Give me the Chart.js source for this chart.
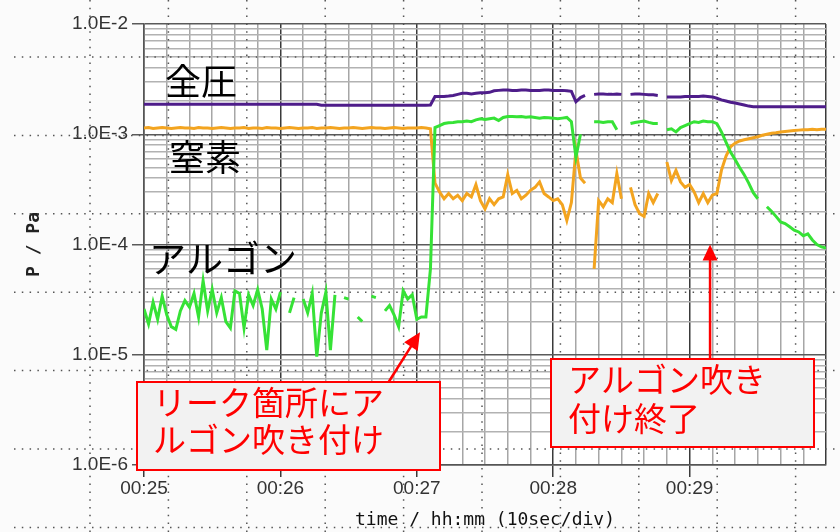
<!DOCTYPE html>
<html><head><meta charset="utf-8">
<script src="https://cdn.jsdelivr.net/npm/chart.js@4.4.1/dist/chart.umd.min.js"></script>
<style>html,body{margin:0;padding:0;background:#fbfbfb;}#wrap{width:840px;height:532px;position:relative;}</style>
</head><body><div id="wrap"><canvas id="c" width="840" height="532"></canvas></div>
<script>
// elapsed seconds after 00:25:00
const times = [
  0,2,4,6,8,10,12,14,16,18,
  20,22,24,26,28,30,32,34,36,38,
  40,42,44,46,48,50,52,54,56,58,
  60,62,64,66,68,70,72,74,76,78,
  80,82,84,86,88,90,92,94,96,98,
  100,102,104,106,108,110,112,114,116,118,
  120,122,124,126,128,130,132,134,136,138,
  140,142,144,146,148,150,152,154,156,158,
  160,162,164,166,168,170,172,174,176,178,
  180,182,184,186,188,190,192,194,196,198,
  200,202,204,206,208,210,212,214,216,218,
  220,222,224,226,228,230,232,234,236,238,
  240,242,244,246,248,250,252,254,256,258,
  260,262,264,266,268,270,272,274,276,278,
  280,282,284,286,288,290,292,294,296,298,
  300
];
// 全圧 (Pa)
const totalPressure = [
  1.87e-3,1.87e-3,1.87e-3,1.87e-3,1.87e-3,1.87e-3,1.87e-3,1.87e-3,1.87e-3,1.87e-3,
  1.87e-3,1.87e-3,1.87e-3,1.87e-3,1.87e-3,1.87e-3,1.87e-3,1.87e-3,1.87e-3,1.87e-3,
  1.87e-3,1.87e-3,1.87e-3,1.87e-3,1.87e-3,1.87e-3,1.87e-3,1.87e-3,1.87e-3,1.87e-3,
  1.87e-3,1.87e-3,1.87e-3,1.87e-3,1.87e-3,1.87e-3,1.87e-3,1.87e-3,1.87e-3,1.83e-3,
  1.83e-3,1.83e-3,1.83e-3,1.83e-3,1.83e-3,1.83e-3,1.83e-3,1.83e-3,1.83e-3,1.83e-3,
  1.83e-3,1.83e-3,1.83e-3,1.83e-3,1.83e-3,1.83e-3,1.83e-3,1.83e-3,1.83e-3,1.83e-3,
  1.83e-3,1.83e-3,1.83e-3,1.84e-3,2.2e-3,2.2e-3,2.2e-3,2.22e-3,2.25e-3,2.3e-3,
  2.35e-3,2.35e-3,2.32e-3,2.35e-3,2.38e-3,2.38e-3,2.4e-3,2.48e-3,2.5e-3,2.52e-3,
  2.52e-3,2.5e-3,2.5e-3,2.52e-3,2.52e-3,2.5e-3,2.5e-3,2.5e-3,2.52e-3,2.52e-3,
  2.5e-3,2.5e-3,2.5e-3,2.48e-3,2.45e-3,1.97e-3,2.15e-3,2.25e-3,null,2.3e-3,
  2.32e-3,2.32e-3,2.3e-3,2.3e-3,2.32e-3,2.3e-3,null,2.3e-3,2.32e-3,2.32e-3,
  2.3e-3,2.28e-3,2.28e-3,2.25e-3,null,2.18e-3,2.18e-3,2.18e-3,2.18e-3,2.2e-3,
  2.2e-3,2.2e-3,2.2e-3,2.22e-3,2.2e-3,2.18e-3,2.12e-3,2.05e-3,2.0e-3,1.95e-3,
  1.92e-3,1.88e-3,1.84e-3,1.8e-3,1.78e-3,1.78e-3,1.78e-3,1.78e-3,1.78e-3,1.78e-3,
  1.78e-3,1.78e-3,1.78e-3,1.78e-3,1.78e-3,1.78e-3,1.78e-3,1.78e-3,1.78e-3,1.78e-3,
  1.78e-3
];
// 窒素 (Pa)
const nitrogen = [
  1.14e-3,1.15e-3,1.13e-3,1.14e-3,1.15e-3,1.14e-3,1.13e-3,1.14e-3,1.15e-3,1.14e-3,
  1.14e-3,1.13e-3,1.15e-3,1.14e-3,1.14e-3,1.13e-3,1.14e-3,1.15e-3,1.14e-3,1.13e-3,
  1.14e-3,1.14e-3,1.15e-3,1.13e-3,1.14e-3,1.14e-3,1.13e-3,1.15e-3,1.14e-3,1.14e-3,
  1.13e-3,1.14e-3,1.15e-3,1.14e-3,1.13e-3,1.14e-3,1.14e-3,1.15e-3,1.13e-3,1.14e-3,
  1.14e-3,1.15e-3,1.14e-3,1.13e-3,1.14e-3,1.14e-3,1.15e-3,1.14e-3,1.13e-3,1.14e-3,
  1.15e-3,1.14e-3,1.14e-3,1.13e-3,1.14e-3,1.15e-3,1.14e-3,1.13e-3,1.14e-3,1.14e-3,
  1.14e-3,1.15e-3,1.14e-3,1.12e-3,3.6e-4,3.0e-4,2.6e-4,2.9e-4,2.6e-4,2.8e-4,
  2.5e-4,2.9e-4,2.7e-4,3.5e-4,2.5e-4,2.1e-4,2.6e-4,2.3e-4,2.6e-4,2.7e-4,
  4.3e-4,2.9e-4,3.1e-4,2.6e-4,2.8e-4,3.1e-4,3.3e-4,3.7e-4,2.9e-4,2.7e-4,
  2.5e-4,2.6e-4,2.3e-4,1.65e-4,2.4e-4,7.2e-4,4.0e-4,3.6e-4,null,6.0e-5,
  2.5e-4,2.2e-4,2.6e-4,2.4e-4,4.4e-4,2.6e-4,null,3.3e-4,2.3e-4,1.9e-4,
  1.8e-4,2.9e-4,2.4e-4,2.9e-4,null,5.6e-4,3.8e-4,4.7e-4,3.7e-4,3.3e-4,
  3.5e-4,3.0e-4,2.4e-4,2.9e-4,2.4e-4,2.8e-4,2.9e-4,4.7e-4,6.3e-4,7.7e-4,
  8.3e-4,8.7e-4,8.9e-4,9.1e-4,9.3e-4,9.5e-4,9.8e-4,1.0e-3,1.02e-3,1.03e-3,
  1.05e-3,1.06e-3,1.07e-3,1.08e-3,1.09e-3,1.1e-3,1.1e-3,1.11e-3,1.1e-3,1.11e-3,
  1.11e-3
];
// アルゴン (Pa)
const argon = [
  2.6e-5,1.9e-5,3.0e-5,2.1e-5,3.4e-5,2.3e-5,1.8e-5,1.7e-5,2.5e-5,3.1e-5,
  2.7e-5,3.6e-5,2.2e-5,4.7e-5,2.5e-5,3.9e-5,2.4e-5,3.3e-5,2.0e-5,1.75e-5,
  3.8e-5,3.6e-5,1.75e-5,3.5e-5,2.8e-5,3.9e-5,2.6e-5,1.1e-5,3.2e-5,2.6e-5,
  3.7e-5,null,2.4e-5,3.3e-5,null,3.2e-5,2.4e-5,3.6e-5,9.6e-6,2.4e-5,
  3.7e-5,1.1e-5,3.5e-5,null,3.3e-5,3.2e-5,null,2.2e-5,2.0e-5,null,
  3.4e-5,3.3e-5,null,2.5e-5,2.8e-5,2.3e-5,1.8e-5,3.8e-5,3.2e-5,3.5e-5,
  2.1e-5,2.2e-5,2.2e-5,6.0e-5,1.15e-3,1.2e-3,1.25e-3,1.27e-3,1.28e-3,1.3e-3,
  1.3e-3,1.32e-3,1.3e-3,1.35e-3,1.38e-3,1.36e-3,1.38e-3,1.4e-3,1.33e-3,1.42e-3,
  1.45e-3,1.45e-3,1.44e-3,1.45e-3,1.43e-3,1.44e-3,1.42e-3,1.4e-3,1.42e-3,1.41e-3,
  1.4e-3,1.38e-3,1.4e-3,1.42e-3,1.3e-3,6.2e-4,1.0e-3,null,null,1.3e-3,
  1.3e-3,1.28e-3,1.3e-3,1.3e-3,1.1e-3,null,null,1.25e-3,1.28e-3,1.3e-3,
  1.32e-3,1.28e-3,1.25e-3,1.25e-3,null,1.1e-3,1.12e-3,1.05e-3,1.15e-3,1.2e-3,
  1.25e-3,1.3e-3,1.28e-3,1.32e-3,1.3e-3,1.3e-3,1.25e-3,1.05e-3,8.5e-4,6.9e-4,
  5.9e-4,5.0e-4,4.3e-4,3.6e-4,2.95e-4,2.6e-4,null,2.2e-4,2.0e-4,1.8e-4,
  1.6e-4,1.55e-4,1.45e-4,1.35e-4,1.3e-4,1.2e-4,1.25e-4,1.1e-4,1.0e-4,9.5e-5,
  9.3e-5
];
const xTickLabels = ['00:25','00:26','00:27','00:28','00:29'];
const xMinuteTicks = [0,60,120,180,240];
const yDecades = [1e-6,1e-5,1e-4,1e-3,1e-2];
const yDecadeLabels = ['1.0E-6','1.0E-5','1.0E-4','1.0E-3','1.0E-2'];
const yGridValues = [
  1e-6,2e-6,3e-6,4e-6,5e-6,6e-6,7e-6,8e-6,9e-6,
  1e-5,2e-5,3e-5,4e-5,5e-5,6e-5,7e-5,8e-5,9e-5,
  1e-4,2e-4,3e-4,4e-4,5e-4,6e-4,7e-4,8e-4,9e-4,
  1e-3,2e-3,3e-3,4e-3,5e-3,6e-3,7e-3,8e-3,9e-3,
  1e-2
];
const seriesNames = ['全圧','窒素','アルゴン'];
const annotationTexts = [['リーク箇所にア','ルゴン吹き付け'],['アルゴン吹き','付け終了']];

const decadeIndex = v => yDecades.findIndex(d => Math.abs(v / d - 1) < 1e-6);
const toPts = arr => times.map((t, i) => ({x: t, y: arr[i]}));

function drawArrow(ctx, x1, y1, x2, y2, head, half) {
  const dx = x2 - x1, dy = y2 - y1, L = Math.hypot(dx, dy), ux = dx / L, uy = dy / L;
  ctx.beginPath(); ctx.moveTo(x1, y1); ctx.lineTo(x2 - ux * head * 0.9, y2 - uy * head * 0.9); ctx.stroke();
  ctx.beginPath(); ctx.moveTo(x2, y2);
  ctx.lineTo(x2 - ux * head - uy * half, y2 - uy * head + ux * half);
  ctx.lineTo(x2 - ux * head + uy * half, y2 - uy * head - ux * half);
  ctx.closePath(); ctx.fill();
}

const decor = {
  id: 'decor',
  beforeDraw(chart) {
    const {ctx, chartArea: a} = chart;
    ctx.save();
    ctx.fillStyle = '#fbfbfb'; ctx.fillRect(0, 0, chart.width, chart.height);
    ctx.fillStyle = '#ffffff'; ctx.fillRect(a.left, a.top, a.right - a.left, a.bottom - a.top);
    ctx.restore();
  },
  beforeDatasetsDraw(chart) {
    const {ctx} = chart;
    ctx.save();
    ctx.strokeStyle = '#555'; ctx.lineWidth = 1.5; ctx.setLineDash([1.5, 6.3]);
    for (let k = 0; k < 10; k++) { const x = 90 + 78.4 * k; ctx.beginPath(); ctx.moveTo(x, 0); ctx.lineTo(x, 532); ctx.stroke(); }
    for (let k = 0; k < 7; k++) { const y = 57 + 78.4 * k; ctx.beginPath(); ctx.moveTo(14, y); ctx.lineTo(840, y); ctx.stroke(); }
    ctx.restore();
  },
  afterDraw(chart) {
    const {ctx, scales: {x, y}} = chart;
    ctx.save();
    // series labels
    ctx.fillStyle = '#000'; ctx.textBaseline = 'middle'; ctx.textAlign = 'left';
    ctx.font = '36px "Noto Sans CJK JP"';
    ctx.fillText(seriesNames[0], 165, 81);
    ctx.fillText(seriesNames[1], 169, 157);
    ctx.font = '37px "Noto Sans CJK JP"';
    ctx.fillText(seriesNames[2], 149, 259);
    // arrows
    ctx.strokeStyle = '#ff0000'; ctx.fillStyle = '#ff0000'; ctx.lineWidth = 2.5;
    drawArrow(ctx, 388, 383, x.getPixelForValue(121.4), y.getPixelForValue(1.6e-5), 17, 8);
    drawArrow(ctx, x.getPixelForValue(249), 358, x.getPixelForValue(249), y.getPixelForValue(1e-4), 16, 7.5);
    // annotation boxes
    const boxes = [
      {l: 137, t: 382, w: 303, h: 88, tx: 153, ty: [402, 439]},
      {l: 551, t: 359, w: 263, h: 88, tx: 568, ty: [379, 418]}
    ];
    boxes.forEach((b, i) => {
      ctx.fillStyle = '#f2f2f2'; ctx.fillRect(b.l, b.t, b.w, b.h);
      ctx.strokeStyle = '#ff0000'; ctx.lineWidth = 2; ctx.strokeRect(b.l, b.t, b.w, b.h);
      ctx.fillStyle = '#ff0000'; ctx.font = '33px "Noto Sans CJK JP"';
      annotationTexts[i].forEach((s, j) => ctx.fillText(s, b.tx, b.ty[j]));
    });
    ctx.restore();
  }
};

new Chart(document.getElementById('c'), {
  type: 'line',
  data: {
    datasets: [
      {label: seriesNames[2], data: toPts(argon), borderColor: '#36e236'},
      {label: seriesNames[1], data: toPts(nitrogen), borderColor: '#f3a41f'},
      {label: seriesNames[0], data: toPts(totalPressure), borderColor: '#4e1d8a'}
    ]
  },
  options: {
    responsive: false, animation: false, devicePixelRatio: 1,
    layout: {padding: {left: 0, right: 14, top: 24, bottom: 0}},
    plugins: {legend: {display: false}, tooltip: {enabled: false}},
    elements: {point: {radius: 0}, line: {borderWidth: 3, tension: 0}},
    spanGaps: false,
    scales: {
      x: {
        type: 'linear', min: 0, max: 300,
        afterFit(s) { s.height = 67; },
        ticks: {
          stepSize: 10, autoSkip: false, maxRotation: 0, padding: 0,
          color: '#333', font: {family: 'Liberation Sans', size: 19},
          callback: v => { const i = xMinuteTicks.indexOf(v); return i >= 0 ? xTickLabels[i] : ''; }
        },
        grid: {
          color: c => (c.tick && c.tick.value % 60 === 0) ? '#3a3a3a' : '#a6a6a6',
          lineWidth: 1.5, tickLength: 12,
          tickColor: c => (c.tick && c.tick.value % 60 === 0 && c.tick.value < 300) ? '#3a3a3a' : 'rgba(0,0,0,0)'
        },
        border: {display: true, color: '#555', width: 1.5},
        title: {display: true, text: 'time / hh:mm (10sec/div)', color: '#111',
          font: {family: 'DejaVu Sans Mono', size: 18}, padding: {top: 0, bottom: 1}}
      },
      y: {
        type: 'logarithmic', min: 1e-6, max: 1e-2,
        afterFit(s) { s.width = 144; },
        afterBuildTicks(s) { s.ticks = yGridValues.map(v => ({value: v, major: false})); },
        ticks: {
          autoSkip: false, padding: 4, color: '#333', font: {family: 'Liberation Sans', size: 19},
          callback: v => { const i = decadeIndex(v); return i >= 0 ? yDecadeLabels[i] : ''; }
        },
        grid: {
          color: c => (c.tick && decadeIndex(c.tick.value) >= 0) ? '#5a5a5a' : '#b2b2b2',
          lineWidth: 1.5, tickLength: 12,
          tickColor: c => (c.tick && decadeIndex(c.tick.value) >= 0) ? '#5a5a5a' : 'rgba(0,0,0,0)'
        },
        border: {display: true, color: '#555', width: 1.5},
        title: {display: true, text: 'P / Pa', color: '#222',
          font: {family: 'DejaVu Sans Mono', size: 18, weight: 'bold'}, padding: {top: 24, bottom: 0}}
      }
    }
  },
  plugins: [decor]
});
</script></body></html>
